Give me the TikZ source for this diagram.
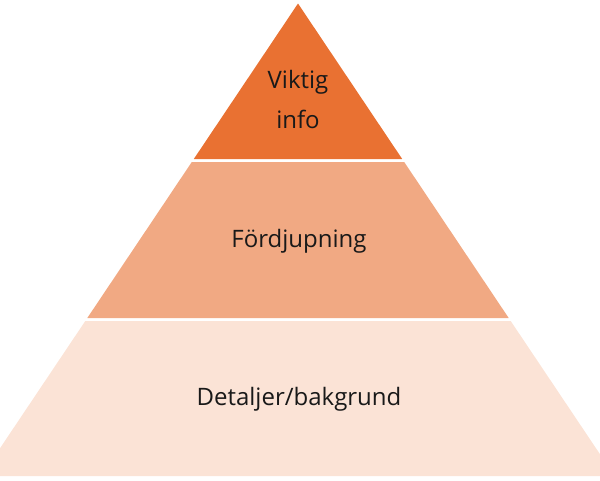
\documentclass[tikz,border=0pt]{standalone}
\usepackage{fontspec}
\setmainfont{Open Sans}
\definecolor{layertop}{HTML}{E97132}
\definecolor{layermid}{HTML}{F1A983}
\definecolor{layerlow}{HTML}{FBE3D6}
\tikzset{
  lbl/.style={anchor=base, font=\fontsize{24}{28}\selectfont, text=black!90, inner sep=0pt}
}
\begin{document}
\begin{tikzpicture}[x=1pt, y=-1pt]
\useasboundingbox (0,0) rectangle (600,480);
\clip (0,0) rectangle (600,480);
% corners of the three layers
\coordinate (apex) at (298,3.5);
\coordinate (tl1) at (193.8,159);
\coordinate (tr1) at (402.2,159);
\coordinate (ml0) at (191.8,162);
\coordinate (mr0) at (404.2,162);
\coordinate (ml1) at (87.3,318);
\coordinate (mr1) at (508.7,318);
\coordinate (bl0) at (85.3,321);
\coordinate (br0) at (510.7,321);
\coordinate (bl1) at (-18.6,476);
\coordinate (br1) at (614.6,476);
\fill[layerlow] (bl0) -- (br0) -- (br1) -- (bl1) -- cycle;
\fill[layermid] (ml0) -- (mr0) -- (mr1) -- (ml1) -- cycle;
\fill[layertop] (apex) -- (tr1) -- (tl1) -- cycle;
\node[lbl] (viktig) at (298,88) {Viktig};
\node[lbl] (info) at (298,128) {info};
\node[lbl] (fordj) at (299,247) {Fördjupning};
\node[lbl] (detalj) at (299,405) {Detaljer/bakgrund};
\end{tikzpicture}
\end{document}
